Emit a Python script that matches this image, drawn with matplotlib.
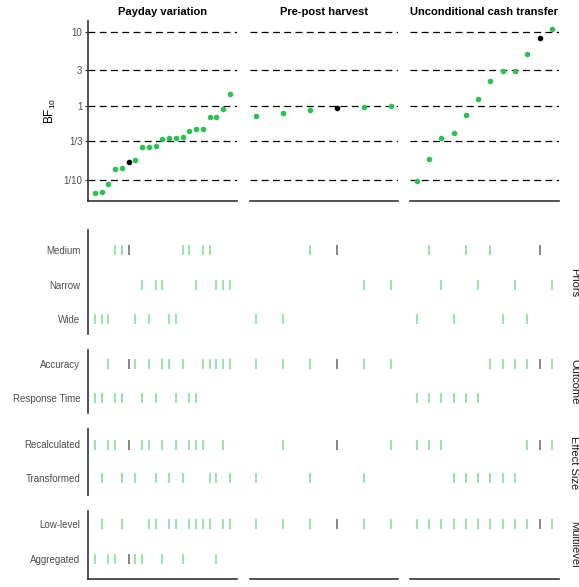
import numpy as np
import matplotlib
matplotlib.use("Agg")
import matplotlib.pyplot as plt

plt.rcParams["font.family"] = ["Liberation Sans", "DejaVu Sans"]
plt.rcParams["mathtext.fontset"] = "custom"
plt.rcParams["mathtext.rm"] = "Liberation Sans"

# panels (left to right)
panel_titles = ["Payday variation", "Pre-post harvest", "Unconditional cash transfer"]

# Bayes factors per specification, sorted
payday_bf = [0.067, 0.0695, 0.087, 0.141, 0.145, 0.177, 0.188, 0.276, 0.276, 0.285, 0.351,
             0.37, 0.373, 0.377, 0.459, 0.489, 0.489, 0.703, 0.703, 0.901, 1.44]
prepost_bf = [0.733, 0.804, 0.874, 0.94, 0.969, 1.0]
uct_bf = [0.097, 0.192, 0.366, 0.423, 0.755, 1.218, 2.18, 2.97, 2.97, 4.99, 8.13, 10.77]

# index of the highlighted (original) specification
best_idx = [5, 3, 10]

# specification choices
payday_priors = ["Wide", "Wide", "Wide", "Medium", "Medium", "Medium", "Wide", "Narrow", "Wide",
                 "Narrow", "Narrow", "Wide", "Wide", "Medium", "Medium", "Narrow", "Medium",
                 "Medium", "Narrow", "Narrow", "Narrow"]
payday_outcome = ["Response Time", "Response Time", "Accuracy", "Response Time", "Response Time",
                  "Accuracy", "Accuracy", "Response Time", "Accuracy", "Response Time", "Accuracy",
                  "Accuracy", "Response Time", "Accuracy", "Response Time", "Response Time",
                  "Accuracy", "Accuracy", "Accuracy", "Accuracy", "Accuracy"]
payday_effect = ["Recalculated", "Transformed", "Recalculated", "Recalculated", "Transformed",
                 "Recalculated", "Transformed", "Recalculated", "Recalculated", "Transformed",
                 "Recalculated", "Transformed", "Recalculated", "Transformed", "Recalculated",
                 "Recalculated", "Recalculated", "Transformed", "Transformed", "Recalculated",
                 "Transformed"]
payday_multi = ["Aggregated", "Low-level", "Aggregated", "Aggregated", "Low-level", "Aggregated",
                "Aggregated", "Aggregated", "Low-level", "Low-level", "Aggregated", "Low-level",
                "Low-level", "Aggregated", "Low-level", "Low-level", "Low-level", "Low-level",
                "Aggregated", "Low-level", "Low-level"]

prepost_priors = ["Wide", "Wide", "Medium", "Medium", "Narrow", "Narrow"]
prepost_outcome = ["Accuracy"] * 6
prepost_effect = ["Transformed", "Recalculated", "Transformed", "Recalculated", "Transformed",
                  "Recalculated"]
prepost_multi = ["Low-level"] * 6

uct_priors = ["Wide", "Medium", "Narrow", "Wide", "Medium", "Narrow", "Medium", "Wide", "Narrow",
              "Wide", "Medium", "Narrow"]
uct_outcome = ["Response Time"] * 6 + ["Accuracy"] * 6
uct_effect = ["Recalculated"] * 3 + ["Transformed"] * 6 + ["Recalculated"] * 3
uct_multi = ["Low-level"] * 12

factor_names = ["Priors", "Outcome", "Effect Size", "Multilevel"]
factor_levels = [["Medium", "Narrow", "Wide"],
                 ["Accuracy", "Response Time"],
                 ["Recalculated", "Transformed"],
                 ["Low-level", "Aggregated"]]

bfs = [payday_bf, prepost_bf, uct_bf]
choices = [
    [payday_priors, payday_outcome, payday_effect, payday_multi],
    [prepost_priors, prepost_outcome, prepost_effect, prepost_multi],
    [uct_priors, uct_outcome, uct_effect, uct_multi],
]

green = "#2bc253"
spine_col = "#333333"
W, H = 579, 587


def box(x0, y0, x1, y1):
    return [x0 / W, 1 - y1 / H, (x1 - x0) / W, (y1 - y0) / H]


fig = plt.figure(figsize=(W / 100, H / 100), dpi=100)

col_x = [(88, 236.5), (249.5, 397.7), (410, 558.7)]
top_y = (21, 201)
# (axes top, axes bottom, first level centre, level spacing) in pixels
group_y = [(230, 334.3, 250.5, 34.2), (350, 413.3, 364.2, 34.1),
           (429.3, 495, 444.5, 33.5), (510.7, 578.7, 524.2, 34.5)]

all_bf = np.concatenate([np.log10(b) for b in bfs])
lo, hi = all_bf.min(), all_bf.max()
pad = 0.05 * (hi - lo)
ylims = (10 ** (lo - pad), 10 ** (hi + pad))

yticks = [0.1, 1 / 3, 1, 3, 10]
ylabels = ["1/10", "1/3", "1", "3", "10"]

for c in range(3):
    bf = bfs[c]
    n = len(bf)
    x = np.arange(1, n + 1)
    xpad = 0.05 * (n - 1)
    xlim = (1 - xpad, n + xpad)
    is_best = np.arange(n) == best_idx[c]

    ax = fig.add_axes(box(col_x[c][0], top_y[0], col_x[c][1], top_y[1]))
    ax.set_yscale("log")
    for t in yticks:
        ax.axhline(t, color="black", lw=0.9, dashes=(5.5, 3.5), zorder=1)
    ax.plot(x[~is_best], np.array(bf)[~is_best], "o", ms=3, color=green, zorder=3)
    ax.plot(x[is_best], np.array(bf)[is_best], "o", ms=3, color="black", zorder=3)
    ax.set_xlim(xlim)
    ax.set_ylim(ylims)
    ax.set_xticks([])
    ax.minorticks_off()
    ax.set_yticks(yticks)
    for s in ["top", "right"]:
        ax.spines[s].set_visible(False)
    ax.spines["bottom"].set_color(spine_col)
    ax.spines["bottom"].set_linewidth(1.2)
    if c == 0:
        ax.set_yticklabels(ylabels)
        ax.tick_params(axis="y", length=2.5, width=0.8, color=spine_col, pad=1.5,
                       labelsize=7, labelcolor="#4d4d4d")
        ax.spines["left"].set_color(spine_col)
        ax.spines["left"].set_linewidth(1.2)
        ax.set_ylabel(r"BF$_{\mathrm{10}}$", fontsize=8.5, labelpad=4)
    else:
        ax.set_yticklabels([])
        ax.tick_params(axis="y", length=0)
        ax.spines["left"].set_visible(False)
    ax.set_facecolor("none")

    fig.text((col_x[c][0] + col_x[c][1]) / 2 / W, 1 - 15.3 / H, panel_titles[c],
             ha="center", va="baseline", fontsize=8, fontweight="bold")

    for g in range(4):
        gt, gb, p1, sp = group_y[g]
        levels = factor_levels[g]
        ax = fig.add_axes(box(col_x[c][0], gt, col_x[c][1], gb))
        yv = np.array([levels.index(v) + 1 for v in choices[c][g]])
        ax.plot(x[~is_best], yv[~is_best], ls="none", marker="|", ms=7.6, mew=1.1,
                color=green, alpha=0.6)
        ax.plot(x[is_best], yv[is_best], ls="none", marker="|", ms=7.6, mew=1.1,
                color="black", alpha=0.6)
        ax.set_xlim(xlim)
        ax.set_ylim(1 + (gb - p1) / sp, 1 - (p1 - gt) / sp)
        ax.set_xticks([])
        ax.set_yticks(np.arange(1, len(levels) + 1))
        for s in ["top", "right"]:
            ax.spines[s].set_visible(False)
        if c == 0:
            ax.set_yticklabels(levels)
            ax.tick_params(axis="y", length=0, pad=5.5, labelsize=7, labelcolor="#4d4d4d")
            ax.spines["left"].set_color(spine_col)
            ax.spines["left"].set_linewidth(1.2)
        else:
            ax.set_yticklabels([])
            ax.tick_params(axis="y", length=0)
            ax.spines["left"].set_visible(False)
        if g == 3:
            ax.spines["bottom"].set_color(spine_col)
            ax.spines["bottom"].set_linewidth(1.2)
        else:
            ax.spines["bottom"].set_visible(False)
        ax.set_facecolor("none")
        if c == 2:
            fig.text(574 / W, 1 - (gt + gb) / 2 / H, factor_names[g], rotation=270,
                     ha="center", va="center", fontsize=8, color="#1a1a1a")

fig.savefig("out.png", dpi=100)
